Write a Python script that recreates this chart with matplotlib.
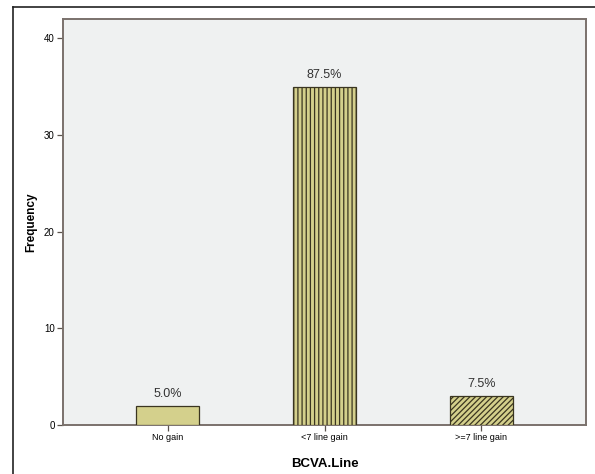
import matplotlib
matplotlib.use("Agg")
import matplotlib.pyplot as plt
from matplotlib.lines import Line2D

categories = ["No gain", "<7 line gain", ">=7 line gain"]
frequencies = [2, 35, 3]
percent_labels = ["5.0%", "87.5%", "7.5%"]
yticks = [0, 10, 20, 30, 40]

plt.rcParams['font.family'] = ['Liberation Sans', 'DejaVu Sans']
plt.rcParams['hatch.linewidth'] = 0.9

W, H = 595, 474
fig = plt.figure(figsize=(W / 100, H / 100), dpi=100)
fig.patch.set_facecolor('white')

ax = fig.add_axes([63 / W, 1 - 425 / H, (586 - 63) / W, (425 - 19) / H])
ax.set_facecolor('#eff1f1')

x = list(range(len(categories)))
hatches = ['', '||||', '//////']
for xi, f, h in zip(x, frequencies, hatches):
    ax.bar(xi, f, width=0.4, color='#d4d08c', edgecolor='#3a3520',
           linewidth=0.9, hatch=h, zorder=3)

for xi, f, lab in zip(x, frequencies, percent_labels):
    ax.text(xi, f + 0.6, lab, ha='center', va='bottom', fontsize=9,
            color='#333333', zorder=4)

ax.set_xlim(-0.667, 2.667)
ax.set_ylim(0, 42)
ax.set_xticks(x)
ax.set_xticklabels(categories, fontsize=6.5)
ax.set_yticks(yticks)
ax.set_yticklabels([str(v) for v in yticks], fontsize=7)
ax.tick_params(axis='both', length=4, width=0.9, color='#5a524c', pad=2)

for side in ['left', 'right', 'top', 'bottom']:
    ax.spines[side].set_color('#7a716c')
    ax.spines[side].set_linewidth(1.4)

ax.set_xlabel('BCVA.Line', fontsize=9.5, fontweight='bold', labelpad=11)
ax.set_ylabel('Frequency', fontsize=8.5, fontweight='bold', labelpad=5)

# outer frame lines (top and left)
fig.add_artist(Line2D([13 / W, 1], [1 - 7 / H, 1 - 7 / H], color='#222222', lw=1.2,
                      transform=fig.transFigure))
fig.add_artist(Line2D([13 / W, 13 / W], [0, 1 - 7 / H], color='#222222', lw=1.2,
                      transform=fig.transFigure))

fig.savefig('out.png', dpi=100, facecolor='white')
